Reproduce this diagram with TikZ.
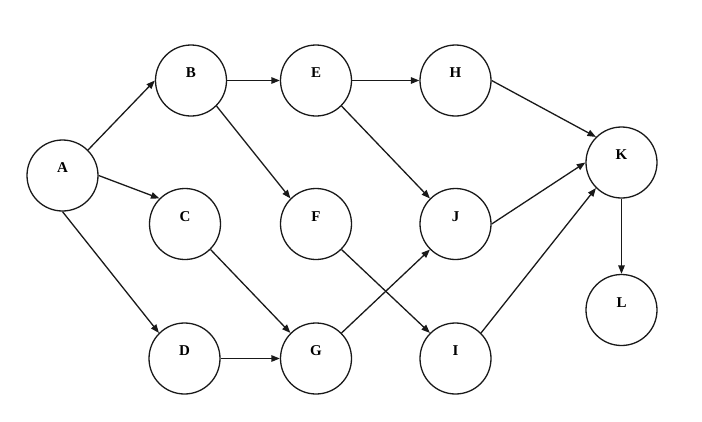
\documentclass[tikz,border=0pt]{standalone}
\usepackage{fontspec}
\setmainfont{Liberation Serif}
\usetikzlibrary{arrows.meta}
\begin{document}
\begin{tikzpicture}[x=1pt,y=-1pt,
  nd/.style={circle, draw=black!90, line width=1.3pt, minimum size=71pt, inner sep=0pt,
    label={[yshift=7.5pt, font=\fontsize{15}{15}\selectfont\bfseries]center:#1}},
  arr/.style={draw=black!90, line width=1.3pt, -{Triangle[length=8.5pt,width=6.5pt]}}]
\useasboundingbox (0,0) rectangle (702,421);
\node[nd=A] (A) at (62.5,175.5) {};
\node[nd=B] (B) at (191,80.5) {};
\node[nd=E] (E) at (316,80.5) {};
\node[nd=H] (H) at (455.5,80.5) {};
\node[nd=K] (K) at (621.5,162.5) {};
\node[nd=C] (C) at (185,224) {};
\node[nd=F] (F) at (316,224) {};
\node[nd=J] (J) at (455.5,224) {};
\node[nd=L] (L) at (621.5,310) {};
\node[nd=D] (D) at (184.5,358.5) {};
\node[nd=G] (G) at (316,358.5) {};
\node[nd=I] (I) at (455.5,358.5) {};
\draw[arr] (A.45) -- (B.180);
\draw[arr] (A.0) -- (C.135);
\draw[arr] (A.270) -- (D.135);
\draw[arr] (B.0) -- (E.180);
\draw[arr] (B.-45) -- (F.135);
\draw[arr] (E.0) -- (H.180);
\draw[arr] (E.-45) -- (J.135);
\draw[arr] (H.0) -- (K.135);
\draw[arr] (C.-45) -- (G.135);
\draw[arr] (D.0) -- (G.180);
\draw[arr] (F.-45) -- (I.135);
\draw[arr] (G.45) -- (J.225);
\draw[arr] (J.0) -- (K.180);
\draw[arr] (I.45) -- (K.225);
\draw[arr] (K.270) -- (L.90);
\end{tikzpicture}
\end{document}
